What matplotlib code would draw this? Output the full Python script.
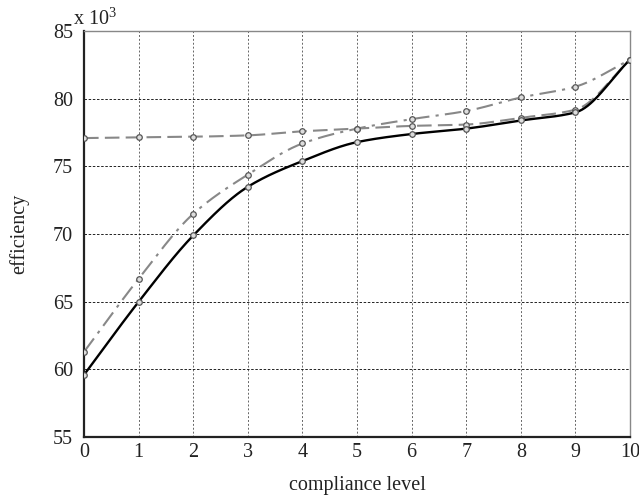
import numpy as np
import matplotlib
matplotlib.use("Agg")
import matplotlib.pyplot as plt

plt.rcParams['font.family'] = ['Liberation Serif', 'DejaVu Serif']
plt.rcParams['mathtext.fontset'] = 'custom'
plt.rcParams['mathtext.rm'] = 'Liberation Serif'

levels = [0, 1, 2, 3, 4, 5, 6, 7, 8, 9, 10]
solid_vals = [59.6, 65.0, 69.9, 73.5, 75.4, 76.8, 77.4, 77.8, 78.4, 79.0, 82.9]
dashed_vals = [77.1, 77.15, 77.2, 77.3, 77.6, 77.8, 78.0, 78.1, 78.6, 79.2, 82.9]
dashdot_vals = [61.3, 66.7, 71.5, 74.4, 76.7, 77.8, 78.5, 79.1, 80.1, 80.9, 82.9]
y_ticks = [55, 60, 65, 70, 75, 80, 85]


def pchip(x, y, n=400):
    x = np.asarray(x, float)
    y = np.asarray(y, float)
    h = np.diff(x)
    d = np.diff(y) / h
    m = np.zeros_like(y)
    for k in range(1, len(x) - 1):
        if d[k - 1] * d[k] > 0:
            w1 = 2 * h[k] + h[k - 1]
            w2 = h[k] + 2 * h[k - 1]
            m[k] = (w1 + w2) / (w1 / d[k - 1] + w2 / d[k])
    m[0] = d[0]
    m[-1] = d[-1]
    xs = np.linspace(x[0], x[-1], n)
    idx = np.clip(np.searchsorted(x, xs) - 1, 0, len(x) - 2)
    t = (xs - x[idx]) / h[idx]
    h00 = 2 * t**3 - 3 * t**2 + 1
    h10 = t**3 - 2 * t**2 + t
    h01 = -2 * t**3 + 3 * t**2
    h11 = t**3 - t**2
    ys = h00 * y[idx] + h10 * h[idx] * m[idx] + h01 * y[idx + 1] + h11 * h[idx] * m[idx + 1]
    return xs, ys


fig = plt.figure(figsize=(6.39, 4.95), dpi=100)
ax = fig.add_axes([0.1315, 0.117, 0.8545, 0.82])

gray = '#888888'
series = [
    (dashed_vals, gray, (0, (7, 3)), 1.5),
    (dashdot_vals, gray, (0, (8, 3, 1.5, 3)), 1.5),
    (solid_vals, 'black', '-', 1.7),
]
for vals, col, ls, lw in series:
    xs, ys = pchip(levels, vals)
    ax.plot(xs, ys, color=col, linestyle=ls, linewidth=lw, zorder=3)
    ax.plot(levels, vals, linestyle='none', marker='o', markersize=4,
            markerfacecolor='#dddddd', markeredgecolor='#555555',
            markeredgewidth=0.9, zorder=4)

ax.set_xlim(0, 10)
ax.set_ylim(55, 85)
ax.set_xticks(levels)
ax.set_yticks(y_ticks)
ax.xaxis.grid(True, color='#666666', linestyle=(0, (2, 2)), linewidth=0.7)
ax.yaxis.grid(True, color='black', linestyle=(0, (3, 2)), linewidth=0.6)
ax.tick_params(direction='in', length=0, labelsize=14.5, labelcolor='#222222')
ax.tick_params(axis='x', pad=4)
ax.tick_params(axis='y', pad=8)
for s in ['left', 'bottom']:
    ax.spines[s].set_linewidth(1.6)
    ax.spines[s].set_color('#222222')
for s in ['top', 'right']:
    ax.spines[s].set_linewidth(1.0)
    ax.spines[s].set_color('#888888')

ax.set_xlabel('compliance level', fontsize=14.5, labelpad=10, color='#222222')
ax.set_ylabel('efficiency', fontsize=14.5, labelpad=17, color='#222222')
fig.text(0.114, 0.949, r'x 10$^{\mathregular{3}}$', fontsize=14.5, ha='left',
         va='baseline', color='#222222')

fig.savefig('out.png', dpi=100)
